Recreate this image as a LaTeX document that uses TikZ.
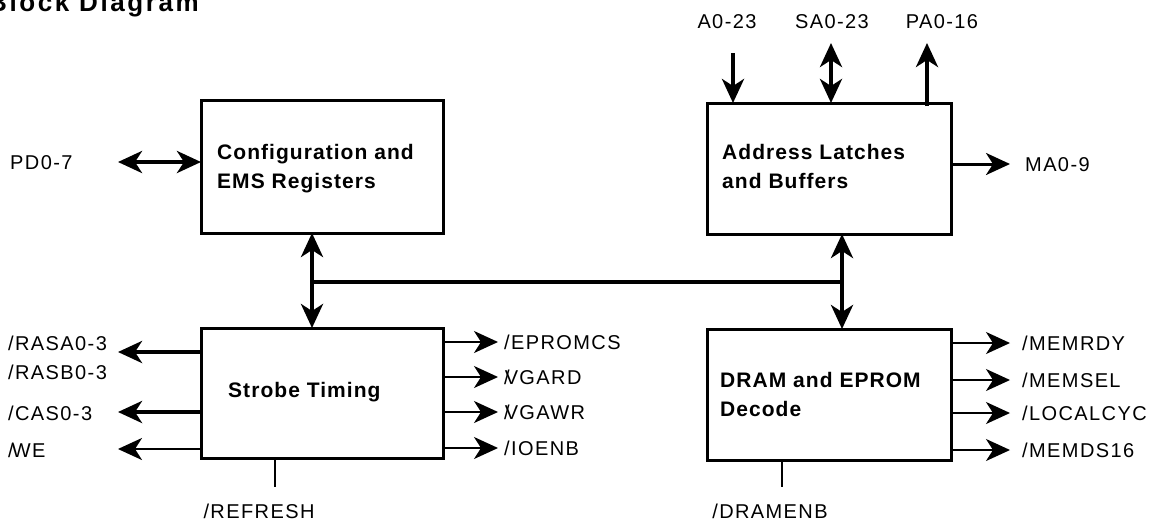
\documentclass[tikz,border=0pt]{standalone}
\usepackage{fontspec}
\setmainfont{Liberation Sans}
\newfontfamily\sigfont{Liberation Sans}[LetterSpace=7]
\newfontfamily\blkfont{Liberation Sans}[LetterSpace=5]
\newfontfamily\headfont{Liberation Sans}[LetterSpace=10]
\usetikzlibrary{arrows.meta}
\begin{document}
\begin{tikzpicture}[
  x=1pt, y=-1pt,
  >={Stealth[length=24pt,width=22pt,inset=7pt]},
  blk/.style={draw, line width=3pt, inner sep=0pt, outer sep=0pt},
  sig/.style={font=\sigfont\fontsize{20}{22}\selectfont, inner sep=0pt},
  blktext/.style={font=\blkfont\bfseries\fontsize{21}{24}\selectfont, inner sep=0pt, anchor=base west},
  bus/.style={line width=4pt},
  med/.style={line width=3pt},
  thin/.style={line width=2pt},
  tick/.style={line width=1.5pt}
]
\useasboundingbox (0,0) rectangle (1161,520);

% title
\node[font=\headfont\bfseries\fontsize{26}{30}\selectfont, anchor=base west, inner sep=0pt] (title) at (-12,11) {Block Diagram};

% functional blocks
\node[blk, minimum width=242pt, minimum height=133pt] (cfg) at (322,166.5) {};
\node[blk, minimum width=244pt, minimum height=131pt] (adr) at (829,168.5) {};
\node[blk, minimum width=242pt, minimum height=130pt] (stb) at (322,393) {};
\node[blk, minimum width=244pt, minimum height=131pt] (drm) at (829,394.5) {};

\node[blktext] (cfgA) at (217,159) {Configuration and};
\node[blktext] (cfgB) at (217,188) {EMS Registers};
\node[blktext] (adrA) at (722,159) {Address Latches};
\node[blktext] (adrB) at (722,188) {and Buffers};
\node[blktext] (stbA) at (228,397) {Strobe Timing};
\node[blktext] (drmA) at (720,387) {DRAM and EPROM};
\node[blktext] (drmB) at (720,416) {Decode};

% internal bus
\coordinate (jl) at (312,282);
\coordinate (jr) at (842,282);
\draw[bus,<->] (jl |- cfg.south) -- (jl |- stb.north);
\draw[bus,<->] (jr |- adr.south) -- (jr |- drm.north);
\draw[bus] (jl) -- (jr);

% processor data
\node[sig, anchor=base west] (pd) at (10,169) {PD0-7};
\coordinate (pdTip) at (118,162);
\draw[bus,<->] (pdTip) -- (pdTip -| cfg.west);

% address inputs and outputs
\node[sig, anchor=base] (a023) at (727,28) {A0-23};
\node[sig, anchor=base] (sa023) at (832,28) {SA0-23};
\node[sig, anchor=base] (pa016) at (942,28) {PA0-16};
\coordinate (aIn) at (733,53);
\coordinate (saEnd) at (831,43);
\coordinate (paEnd) at (927,43);
\draw[bus,->] (aIn) -- (aIn |- adr.north);
\draw[bus,<->] (saEnd) -- (saEnd |- adr.north);
\draw[bus,->] ([yshift=-3pt]paEnd |- adr.north) -- (paEnd);

\node[sig, anchor=base west] (ma) at (1025,171) {MA0-9};
\coordinate (maTip) at (1010,164);
\draw[med,->] (maTip -| adr.east) -- (maTip);

% strobe outputs, left side
\node[sig, anchor=base west] (rasa) at (8,350) {/RASA0-3};
\node[sig, anchor=base west] (rasb) at (8,379) {/RASB0-3};
\node[sig, anchor=base west] (cas) at (8,420) {/CAS0-3};
\node[sig, anchor=base west] (we) at (8,457) {/\kern-2pt WE};
\coordinate (rasTip) at (118,352);
\coordinate (casTip) at (118,412);
\coordinate (weTip) at (118,449);
\draw[bus,->] (rasTip -| stb.west) -- (rasTip);
\draw[bus,->] (casTip -| stb.west) -- (casTip);
\draw[line width=2.5pt,->] (weTip -| stb.west) -- (weTip);

% strobe outputs, right side
\node[sig, anchor=base west] (eprom) at (504,349) {/EPROMCS};
\node[sig, anchor=base west] (vgard) at (504,384) {/\kern-5pt VGARD};
\node[sig, anchor=base west] (vgawr) at (504,419) {/\kern-5pt VGAWR};
\node[sig, anchor=base west] (ioenb) at (504,455) {/IOENB};
\coordinate (t1) at (498,342);
\coordinate (t2) at (498,377);
\coordinate (t3) at (498,412);
\coordinate (t4) at (498,448);
\foreach \t in {t1,t2,t3,t4}
  \draw[thin,->] (\t -| stb.east) -- (\t);

% decode outputs
\node[sig, anchor=base west] (memrdy) at (1022,350) {/MEMRDY};
\node[sig, anchor=base west] (memsel) at (1022,387) {/MEMSEL};
\node[sig, anchor=base west] (lcyc) at (1022,420) {/LOCALCYC};
\node[sig, anchor=base west] (mds) at (1022,457) {/MEMDS16};
\coordinate (d1) at (1010,343);
\coordinate (d2) at (1010,380);
\coordinate (d3) at (1010,413);
\coordinate (d4) at (1010,450);
\foreach \d in {d1,d2,d3,d4}
  \draw[thin,->] (\d -| drm.east) -- (\d);

% enable inputs
\node[sig, anchor=base] (refresh) at (259,518) {/REFRESH};
\node[sig, anchor=base] (dramenb) at (770,518) {/DRAMENB};
\coordinate (refEnd) at (275,487);
\coordinate (denEnd) at (782,487);
\draw[tick] (refEnd |- stb.south) -- (refEnd);
\draw[tick] (denEnd |- drm.south) -- (denEnd);
\end{tikzpicture}
\end{document}
